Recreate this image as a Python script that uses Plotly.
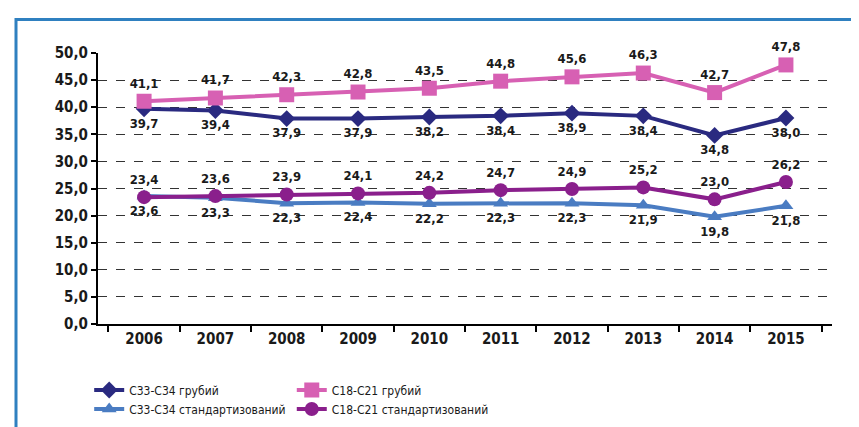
import plotly.graph_objects as go

years = ["2006", "2007", "2008", "2009", "2010", "2011", "2012", "2013", "2014", "2015"]
c33_crude = [39.7, 39.4, 37.9, 37.9, 38.2, 38.4, 38.9, 38.4, 34.8, 38.0]
c18_crude = [41.1, 41.7, 42.3, 42.8, 43.5, 44.8, 45.6, 46.3, 42.7, 47.8]
c33_std = [23.6, 23.3, 22.3, 22.4, 22.2, 22.3, 22.3, 21.9, 19.8, 21.8]
c18_std = [23.4, 23.6, 23.9, 24.1, 24.2, 24.7, 24.9, 25.2, 23.0, 26.2]
names = ["C33-C34 грубий", "C18-C21 грубий", "C33-C34 стандартизований", "C18-C21 стандартизований"]
yticks = [0, 5, 10, 15, 20, 25, 30, 35, 40, 45, 50]

FONT = "DejaVu Sans Condensed, Liberation Sans Narrow, Roboto, sans-serif"

def fmt(v):
    return f"{v:.1f}".replace(".", ",")

series = [
    (c33_crude, names[0], "#2a2a80", "diamond", 13, "bottom center", "legend"),
    (c18_crude, names[1], "#d760b3", "square", 15, "top center", "legend2"),
    (c33_std, names[2], "#4a7cc2", "triangle-up", 13, "bottom center", "legend"),
    (c18_std, names[3], "#8a1f8c", "circle", 14, "top center", "legend2"),
]

fig = go.Figure()
for vals, nm, col, sym, sz, tp, lg in series:
    fig.add_trace(go.Scatter(
        x=years, y=vals, name=nm, mode="lines+markers+text",
        line=dict(color=col, width=4),
        marker=dict(symbol=sym, size=sz, color=col),
        text=[fmt(v) for v in vals], textposition=tp,
        textfont=dict(family=FONT, size=13, color="#1a1a1a", weight="bold"),
        cliponaxis=False, legend=lg,
    ))

legfont = dict(family=FONT, size=12, color="#1a1a1a")
fig.update_layout(
    width=859, height=427,
    margin=dict(l=90, r=35, t=45, b=99),
    paper_bgcolor="white", plot_bgcolor="white",
    separators=", ",
    font=dict(family=FONT, size=15, color="#1a1a1a"),
    showlegend=True,
    legend=dict(x=-0.012, xanchor="left", y=-0.19, yanchor="top",
                font=legfont, tracegroupgap=0, bgcolor="rgba(0,0,0,0)"),
    legend2=dict(x=0.264, xanchor="left", y=-0.19, yanchor="top",
                 font=legfont, tracegroupgap=0, bgcolor="rgba(0,0,0,0)"),
    xaxis=dict(type="category", showgrid=False, showline=True, linecolor="black",
               linewidth=2, ticks="outside", tickson="boundaries", ticklen=6,
               tickwidth=2, tickcolor="black",
               tickfont=dict(family=FONT, size=15, color="#1a1a1a", weight="bold")),
    yaxis=dict(range=[0, 50], tickvals=yticks, tickformat=".1f",
               showgrid=True, gridcolor="#333", griddash="dash", gridwidth=1,
               showline=True, linecolor="black", linewidth=2,
               ticks="outside", ticklen=5, tickwidth=2, tickcolor="black",
               zeroline=False,
               tickfont=dict(family=FONT, size=15, color="#1a1a1a", weight="bold")),
    shapes=[dict(type="rect", xref="paper", yref="paper",
                 x0=-82/734, x1=(851-90)/734, y0=-115/283, y1=(328-10)/283,
                 line=dict(color="#2f80c0", width=3), fillcolor="rgba(0,0,0,0)",
                 layer="below")],
)

fig.write_html("out.html")
